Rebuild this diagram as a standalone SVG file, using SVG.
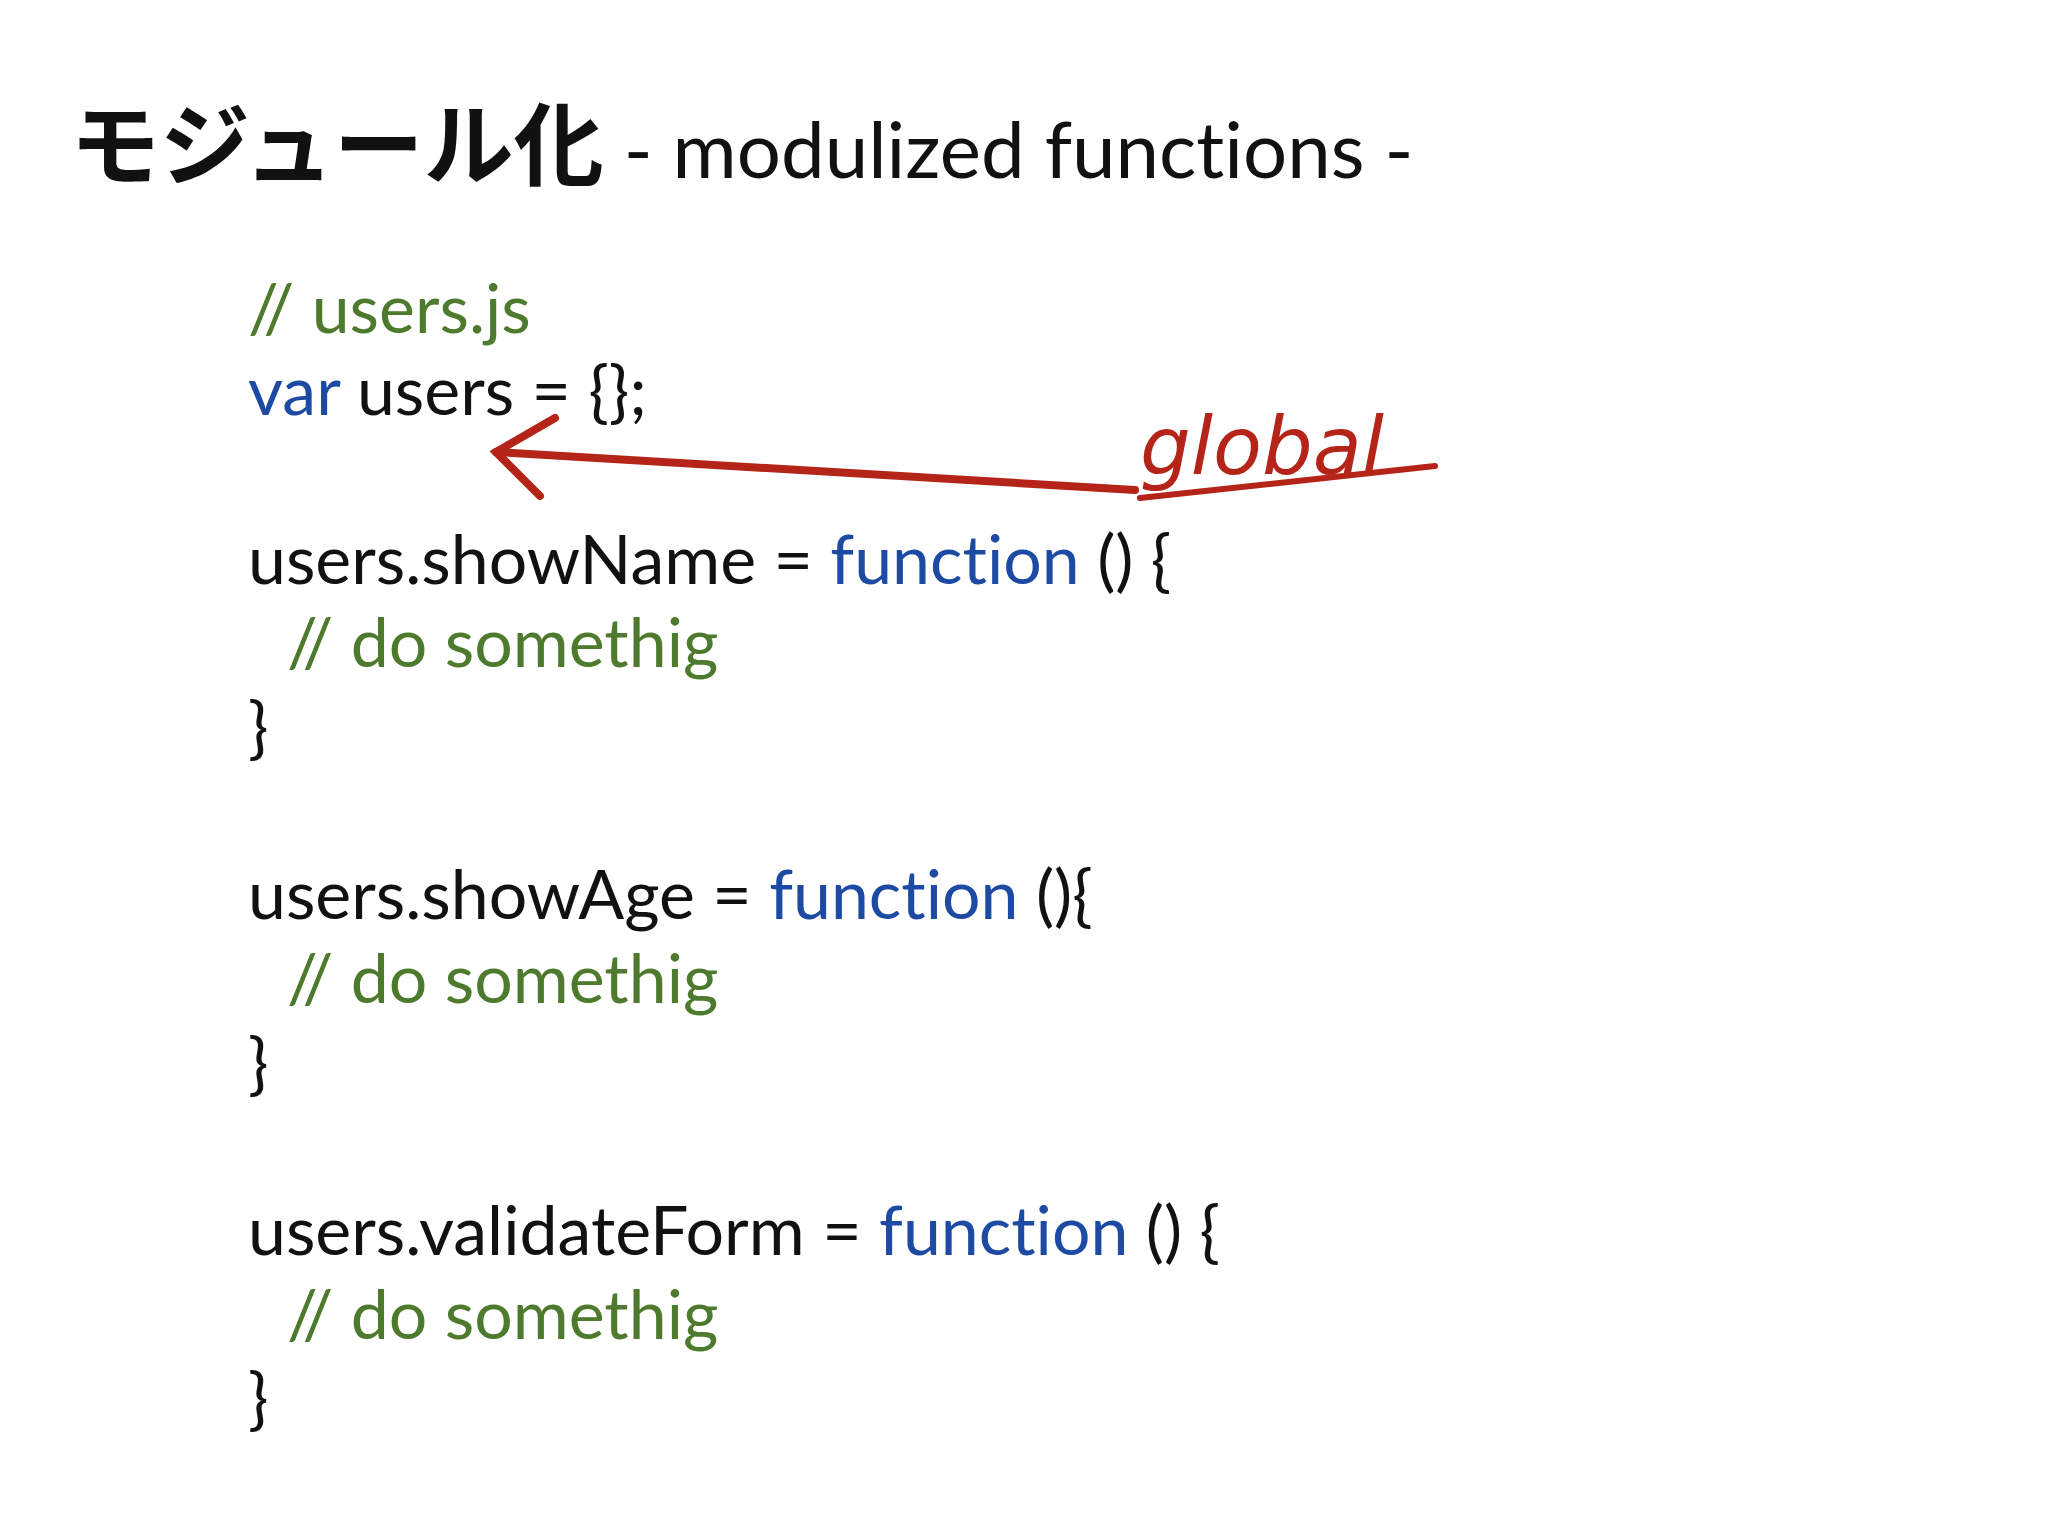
<svg xmlns="http://www.w3.org/2000/svg" width="2048" height="1536" viewBox="0 0 2048 1536">
<style>
text{font-variant-ligatures:none}
.c{font-family:Lato,"Open Sans","Liberation Sans",sans-serif;font-size:68px;fill:#111}
.g{fill:#4d7a2c}
.b{fill:#1d4aa3}
</style>
<rect width="2048" height="1536" fill="#fff"/>
<g id="title">
<text x="70" y="178" font-family="'Noto Sans CJK JP',sans-serif" font-weight="bold" font-size="90" fill="#111">モジュール化<tspan font-family="Lato,'Open Sans',sans-serif" font-weight="normal" font-size="78"> - modulized functions -</tspan></text>
</g>
<g id="code" class="c">
<text x="248" y="333" class="c g">// users.js</text>
<text x="248" y="415" class="c"><tspan class="b">var</tspan> users = {};</text>
<text x="248" y="584" class="c">users.showName = <tspan class="b">function</tspan> () {</text>
<text x="287" y="667" class="c g">// do somethig</text>
<text x="248" y="751" class="c">}</text>
<text x="248" y="919" class="c">users.showAge = <tspan class="b">function</tspan> (){</text>
<text x="287" y="1003" class="c g">// do somethig</text>
<text x="248" y="1087" class="c">}</text>
<text x="248" y="1255" class="c">users.validateForm = <tspan class="b">function</tspan> () {</text>
<text x="287" y="1339" class="c g">// do somethig</text>
<text x="248" y="1422" class="c">}</text>
</g>
<g id="connectors" fill="none" stroke="#b52418" stroke-linecap="round" stroke-width="8">
<path d="M1135 490 L496 452"/>
<path d="M555 418 L496 452 L540 496"/>
<path d="M1140 498 L1435 466" stroke-width="6"/>
</g>
<g id="global">
<text x="1140" y="474" font-family="'DejaVu Sans',sans-serif" font-style="italic" font-size="80" fill="#b52418">global</text>
</g>
</svg>
